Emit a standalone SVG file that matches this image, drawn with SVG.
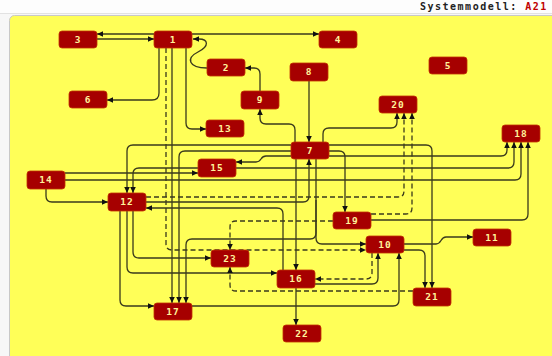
<svg xmlns="http://www.w3.org/2000/svg" width="552" height="356" viewBox="0 0 552 356">
<style>
.bg{fill:#f7f7f7}
.panel{fill:#ffff58;stroke:#c8c8c8;stroke-width:1}
.n rect{fill:#a60000;stroke:#c23300;stroke-width:0.8}
.n text{fill:#fff29a;font-family:"DejaVu Sans Mono",monospace;font-weight:bold;font-size:9.5px;letter-spacing:1px;text-anchor:middle}
.e path{fill:none;stroke:#3a3a1c;stroke-width:1.3;marker-end:url(#ah)}
.e path.d{stroke-dasharray:5,3}
.title{font-family:"DejaVu Sans Mono",monospace;font-weight:bold;font-size:10px;letter-spacing:1.5px}
</style>
<defs>
<marker id="ah" markerUnits="userSpaceOnUse" markerWidth="8" markerHeight="8" viewBox="0 0 8 8" refX="7" refY="4" orient="auto">
<path d="M1,1.2 L7,4 L1,6.8 Z" fill="#111"/>
</marker>
</defs>
<rect class="bg" x="0" y="0" width="552" height="356"/>
<rect x="0" y="0" width="552" height="13" fill="#fdfdfd"/>
<line x1="0" y1="13.5" x2="552" y2="13.5" stroke="#e2e2e2"/>
<rect class="panel" x="9.5" y="15.5" width="560" height="360" rx="5"/>
<text class="title" x="420" y="10"><tspan fill="#222">Systemmodell: </tspan><tspan fill="#c00000">A21</tspan></text>

<g class="e" id="edges">
<path d="M154,34 L97,34"/>
<path d="M97,39 L154,39"/>
<path d="M192,34 L319,34"/>
<path d="M207,68 C188,68 186,58 198,52 C210,46 208,39 199,39 L193,39"/>
<path d="M260,91 L260,74 Q260,68 254,68 L245,68"/>
<path d="M295,142 L295,130 Q295,124 289,124 L266,124 Q260,124 260,118 L260,109"/>
<path d="M159,48 L159,93 Q159,100 152,100 L107,100"/>
<path d="M186,48 L186,123 Q186,129 192,129 L206,129"/>
<path class="d" d="M166,48 L166,244 Q166,250 172,250 L366,250"/>
<path d="M172,48 L172,303"/>
<path d="M309,81 L309,142"/>
<path d="M323,142 L323,134 Q323,128 329,128 L391,128 Q397,128 397,122 L397,113"/>
<path class="d" d="M146,197 L398,197 Q404,197 404,191 L404,113"/>
<path class="d" d="M371,214 L406,214 Q412,214 412,208 L412,113"/>
<path d="M291,145 L133,145 Q127,145 127,151 L127,193"/>
<path d="M198,168 L139,168 Q133,168 133,174 L133,193"/>
<path d="M291,151 L185,151 Q179,151 179,157 L179,303"/>
<path d="M291,156 L266,156 C260,156 262,162 256,162 L236,162"/>
<path d="M329,156 L501,156 Q507,156 507,150 L507,142"/>
<path d="M236,168 L508,168 Q514,168 514,162 L514,142"/>
<path d="M65,180 L515,180 Q521,180 521,174 L521,142"/>
<path d="M371,220 L522,220 Q528,220 528,214 L528,142"/>
<path d="M65,173 L198,173"/>
<path d="M46,189 L46,196 Q46,202 52,202 L108,202"/>
<path d="M146,202 L303,202 Q309,202 309,196 L309,159"/>
<path d="M283,270 L283,214 Q283,208 277,208 L146,208"/>
<path d="M296,159 L296,270"/>
<path d="M296,288 L296,325"/>
<path d="M316,159 L316,238 Q316,244 322,244 L366,244"/>
<path d="M316,200 L316,233 Q316,239 310,239 L192,239 Q186,239 186,245 L186,303"/>
<path d="M404,244 L436,244 C442,244 440,237 446,237 L473,237"/>
<path d="M329,145 L426,145 Q432,145 432,151 L432,288"/>
<path d="M404,250 L419,250 Q425,250 425,256 L425,288"/>
<path d="M329,151 L339,151 Q345,151 345,157 L345,212"/>
<path class="d" d="M333,221 L236,221 Q230,221 230,227 L230,250"/>
<path d="M120,211 L120,300 Q120,306 126,306 L154,306"/>
<path d="M127,211 L127,267 Q127,273 133,273 L277,273"/>
<path d="M133,211 L133,252 Q133,258 139,258 L211,258"/>
<path class="d" d="M413,291 L236,291 Q230,291 230,285 L230,267"/>
<path class="d" d="M372,253 L372,273 Q372,279 366,279 L315,279"/>
<path d="M315,284 L372,284 Q378,284 378,278 L378,253"/>
<path d="M192,306 L393,306 Q399,306 399,300 L399,253"/>
</g>

<g class="n" id="n1"><rect x="154" y="31" width="38" height="17" rx="3"/><text x="173" y="43">1</text></g>
<g class="n" id="n2"><rect x="207" y="59" width="38" height="17" rx="3"/><text x="226" y="71">2</text></g>
<g class="n" id="n3"><rect x="59" y="31" width="38" height="17" rx="3"/><text x="78" y="43">3</text></g>
<g class="n" id="n4"><rect x="319" y="31" width="38" height="17" rx="3"/><text x="338" y="43">4</text></g>
<g class="n" id="n5"><rect x="429" y="57" width="38" height="17" rx="3"/><text x="448" y="69">5</text></g>
<g class="n" id="n6"><rect x="69" y="91" width="38" height="17" rx="3"/><text x="88" y="103">6</text></g>
<g class="n" id="n7"><rect x="291" y="142" width="38" height="17" rx="3"/><text x="310" y="154">7</text></g>
<g class="n" id="n8"><rect x="290" y="63" width="38" height="18" rx="3"/><text x="309" y="75">8</text></g>
<g class="n" id="n9"><rect x="241" y="91" width="38" height="18" rx="3"/><text x="260" y="103">9</text></g>
<g class="n" id="n10"><rect x="366" y="236" width="38" height="17" rx="3"/><text x="385" y="248">10</text></g>
<g class="n" id="n11"><rect x="473" y="229" width="38" height="17" rx="3"/><text x="492" y="241">11</text></g>
<g class="n" id="n12"><rect x="108" y="193" width="38" height="18" rx="3"/><text x="127" y="205">12</text></g>
<g class="n" id="n13"><rect x="206" y="120" width="38" height="17" rx="3"/><text x="225" y="132">13</text></g>
<g class="n" id="n14"><rect x="27" y="171" width="38" height="18" rx="3"/><text x="46" y="183">14</text></g>
<g class="n" id="n15"><rect x="198" y="159" width="38" height="18" rx="3"/><text x="217" y="171">15</text></g>
<g class="n" id="n16"><rect x="277" y="270" width="38" height="18" rx="3"/><text x="296" y="282">16</text></g>
<g class="n" id="n17"><rect x="154" y="303" width="38" height="17" rx="3"/><text x="173" y="315">17</text></g>
<g class="n" id="n18"><rect x="502" y="125" width="38" height="17" rx="3"/><text x="521" y="137">18</text></g>
<g class="n" id="n19"><rect x="333" y="212" width="38" height="17" rx="3"/><text x="352" y="224">19</text></g>
<g class="n" id="n20"><rect x="379" y="96" width="38" height="17" rx="3"/><text x="398" y="108">20</text></g>
<g class="n" id="n21"><rect x="413" y="288" width="38" height="18" rx="3"/><text x="432" y="300">21</text></g>
<g class="n" id="n22"><rect x="283" y="325" width="38" height="17" rx="3"/><text x="302" y="337">22</text></g>
<g class="n" id="n23"><rect x="211" y="250" width="38" height="17" rx="3"/><text x="230" y="262">23</text></g>
</svg>
